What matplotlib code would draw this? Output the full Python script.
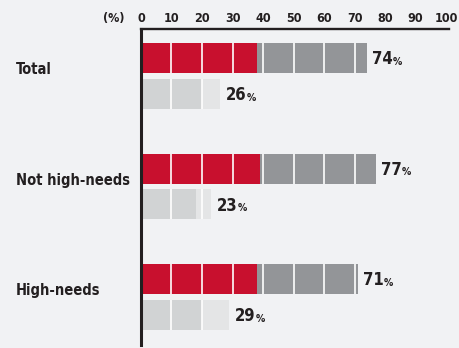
import matplotlib
matplotlib.use("Agg")
import matplotlib.pyplot as plt

# data
groups = ["Total", "Not high-needs", "High-needs"]
top_red = [38, 39, 38]       # red part of upper bar
top_total = [74, 77, 71]     # upper bar total
bot_light = [20, 18, 20]     # light gray part of lower bar
bot_total = [26, 23, 29]     # lower bar total
ticks = [0, 10, 20, 30, 40, 50, 60, 70, 80, 90, 100]

BG = "#F1F2F4"
RED = "#C8102E"
DGRAY = "#939598"
LGRAY = "#D1D3D4"
LLGRAY = "#E4E5E6"
INK = "#231F20"
plt.rcParams["font.family"] = ["DejaVu Sans"]
plt.rcParams["font.stretch"] = "condensed"
plt.rcParams["font.weight"] = "bold"

fig = plt.figure(figsize=(4.6, 3.48), dpi=100, facecolor=BG)
ax = fig.add_axes([141 / 460, 1 - 345 / 348, 305 / 460, 316 / 348], facecolor=BG)

h = 30 / 110.5
off = 36 / 110.5
for i, g in enumerate(groups):
    yt, yb = i, i + off
    ax.barh(yt, top_red[i], height=h, color=RED, lw=0)
    ax.barh(yt, top_total[i] - top_red[i], left=top_red[i], height=h, color=DGRAY, lw=0)
    ax.barh(yb, bot_light[i], height=h, color=LGRAY, lw=0)
    ax.barh(yb, bot_total[i] - bot_light[i], left=bot_light[i], height=h, color=LLGRAY, lw=0)
    # white gridlines only inside bars
    for y, tot in ((yt, top_total[i]), (yb, bot_total[i])):
        xs = [t for t in ticks[1:] if t < tot]
        ax.vlines(xs, y - h / 2, y + h / 2, color="white", lw=1.2, zorder=3)
        t = ax.annotate(f"{tot}", xy=(tot, y), xytext=(4, -1), textcoords="offset points",
                        ha="left", va="center", fontsize=12, color=INK)
        ax.annotate("%", xy=(1, 0.1), xycoords=t, ha="left", va="bottom",
                    fontsize=7.5, color=INK)
    ax.text(-125 / 305 * 100, i + off / 2 - 0.055, g, ha="left", va="center",
            fontsize=10.5, color=INK)

ax.set_xlim(0, 100)
ax.set_ylim(345 / 110.5 - 58 / 110.5, -29 / 110.5)
ax.xaxis.tick_top()
ax.set_xticks(ticks)
ax.tick_params(axis="x", length=0, pad=3, labelsize=9, labelcolor=INK)
ax.set_yticks([])
for s in ["right", "bottom"]:
    ax.spines[s].set_visible(False)
ax.spines["top"].set_linewidth(1.7)
ax.spines["left"].set_linewidth(2.2)
ax.spines["top"].set_color(INK)
ax.spines["left"].set_color(INK)
ax.spines["top"].set_bounds(0, 101)
ax.text(-0.09, 1 + 4 / 316, "(%)", transform=ax.transAxes, ha="center", va="bottom",
        fontsize=9, color=INK)

fig.savefig("out.png", dpi=100, facecolor=BG)
